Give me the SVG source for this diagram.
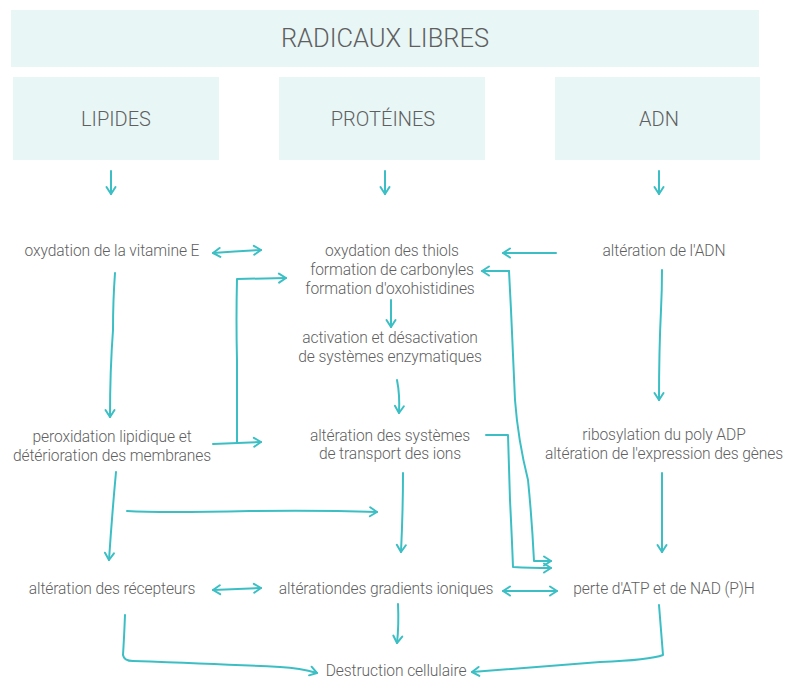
<svg xmlns="http://www.w3.org/2000/svg" width="786" height="682" viewBox="0 0 786 682">
<defs>
<style>
.box{fill:#e8f6f6}
.t{font-family:Roboto,"Liberation Sans",sans-serif;font-weight:300;fill:#5f5f5f;text-anchor:middle}
.s{font-size:15.6px;letter-spacing:-0.1px}
.h{font-size:20px}
.c{fill:none;stroke:#3cbfc4;stroke-width:2;stroke-linecap:round;stroke-linejoin:round}
.a{marker-end:url(#ah)}
.d{marker-start:url(#ah);marker-end:url(#ah)}
</style>
<marker id="ah" viewBox="0 0 12 12" refX="10" refY="6" markerWidth="12" markerHeight="12" markerUnits="userSpaceOnUse" orient="auto-start-reverse">
<path d="M3,1.5 L10,6 L3,10.5" fill="none" stroke="#3cbfc4" stroke-width="2" stroke-linecap="round" stroke-linejoin="round"/>
</marker>
</defs>
<rect width="786" height="682" fill="#fff"/>

<g id="radicaux"><rect class="box" x="11" y="10" width="748" height="57"/><text class="t" x="385" y="47" style="font-size:25.5px">RADICAUX LIBRES</text></g>
<g id="lipides"><rect class="box" x="13" y="77" width="206" height="83"/><text class="t h" x="116" y="126">LIPIDES</text></g>
<g id="proteines"><rect class="box" x="279" y="77" width="206" height="83"/><text class="t h" x="383" y="126">PROTÉINES</text></g>
<g id="adn"><rect class="box" x="555" y="77" width="205" height="83"/><text class="t h" x="659" y="126">ADN</text></g>

<g id="vitE"><text class="t s" x="112" y="256">oxydation de la vitamine E</text></g>
<g id="thiols"><text class="t s" x="392" y="256">oxydation des thiols</text><text class="t s" x="392" y="275">formation de carbonyles</text><text class="t s" x="390" y="294">formation d'oxohistidines</text></g>
<g id="adnAlt"><text class="t s" x="664" y="256">altération de l'ADN</text></g>
<g id="activation"><text class="t s" x="390" y="343">activation et désactivation</text><text class="t s" x="390" y="362">de systèmes enzymatiques</text></g>
<g id="peroxidation"><text class="t s" x="112" y="442">peroxidation lipidique et</text><text class="t s" x="112" y="461">détérioration des membranes</text></g>
<g id="transport"><text class="t s" x="390" y="441">altération des systèmes</text><text class="t s" x="390" y="459">de transport des ions</text></g>
<g id="ribosylation"><text class="t s" x="664" y="440">ribosylation du poly ADP</text><text class="t s" x="664" y="459">altération de l'expression des gènes</text></g>
<g id="recepteurs"><text class="t s" x="112" y="594">altération des récepteurs</text></g>
<g id="gradients"><text class="t s" x="386" y="594">altérationdes gradients ioniques</text></g>
<g id="atp"><text class="t s" x="664" y="594">perte d'ATP et de NAD (P)H</text></g>
<g id="destruction"><text class="t s" x="396" y="676">Destruction cellulaire</text></g>

<g id="connectors">
<path class="c a" d="M111,171 L111,194"/>
<path class="c a" d="M385,171 L385,194"/>
<path class="c a" d="M659,171 L659,194"/>
<path class="c d" d="M213,253 Q237,251 261,250"/>
<path class="c a" d="M115,273 Q113,300 113,330 Q110,370 110,417"/>
<path class="c a" d="M213,444 Q237,443 261,442"/>
<path class="c a" d="M237,443 L237,360 Q236,320 237,279 L286,278"/>
<path class="c a" d="M556,253 L503,253"/>
<path class="c a" d="M509,271 L482,271"/>
<path class="c a" d="M509,271 L511,310 Q514,380 515,400 Q518,440 528,480 Q532,520 534,561 L551,561"/>
<path class="c a" d="M486,435 L508,435 L510,500 Q512,540 513,567 Q530,568 551,568"/>
<path class="c a" d="M391,300 L391,327"/>
<path class="c a" d="M397,380 Q400,395 399,413"/>
<path class="c a" d="M403,473 Q403,510 401,552"/>
<path class="c a" d="M127,511 Q160,513 250,511 Q320,510 377,512"/>
<path class="c a" d="M116,472 Q112,515 109,560"/>
<path class="c a" d="M662,270 Q662,290 661,310 Q659,350 659,400"/>
<path class="c a" d="M662,473 L662,552"/>
<path class="c d" d="M213,590 Q237,589 261,588"/>
<path class="c d" d="M503,591 L557,591"/>
<path class="c a" d="M398,604 Q399,625 397,643"/>
<path class="c a" d="M125,615 Q124,640 123,655 Q124,661 133,661 Q220,664 280,667 Q300,668 317,673"/>
<path class="c a" d="M659,605 Q661,630 663,655 Q650,660 600,662 Q520,668 472,672"/>
</g>
</svg>
